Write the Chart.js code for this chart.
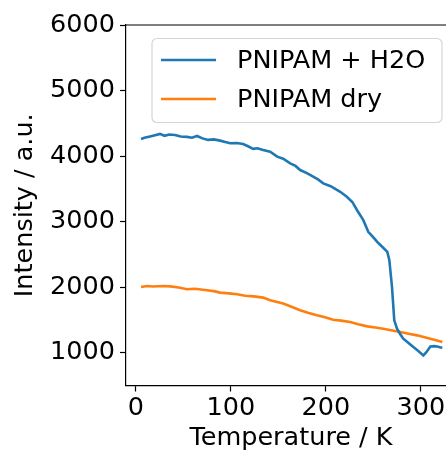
<!DOCTYPE html>
<html>
<head>
<meta charset="utf-8">
<script src="https://cdn.jsdelivr.net/npm/chart.js@4.4.1/dist/chart.umd.min.js"></script>
<style>
  html, body { margin: 0; padding: 0; background: #fff; overflow: hidden; width: 446px; height: 454px; }
  #wrap { width: 456px; height: 454px; }
</style>
</head>
<body>
<div id="wrap"><canvas id="chart" width="456" height="454"></canvas></div>
<script>
// Temperature (K) and intensity (a.u.) for the two PNIPAM samples
const seriesLabels = ['PNIPAM + H2O', 'PNIPAM dry'];
const seriesColors = ['#1f77b4', '#ff7f0e'];

const tempWater = [5.3, 9, 14.8, 19, 25.3, 30, 35, 41.1, 47, 53.8, 59, 64.3, 70, 75.9, 82, 88.6, 94, 99.2, 106,
  112.8, 118, 123.4, 128, 133.9, 141.3, 148.7, 155, 162.4, 168, 172.9, 180, 186.6, 192, 197.2, 205, 215.1,
  222, 227.8, 233, 239.4, 244.6, 250, 254, 259, 264.7, 266.8, 269.6, 272, 274.9, 278, 281.5, 287, 292.1,
  297, 302.6, 305.8, 310, 314, 317.3, 320, 322.6];
const intensityWater = [4262, 4280, 4300, 4315, 4339, 4310, 4330, 4323, 4300, 4293, 4280, 4307, 4270, 4247, 4255,
  4236, 4215, 4195, 4200, 4185, 4150, 4110, 4120, 4093, 4067, 3991, 3960, 3890, 3850, 3787, 3740, 3685,
  3640, 3584, 3540, 3456, 3380, 3300, 3170, 3023, 2844, 2760, 2691, 2620, 2538, 2411, 2003, 1494, 1367,
  1290, 1214, 1150, 1086, 1030, 959, 1009, 1096, 1100, 1096, 1085, 1076];

const tempDry = [5.3, 11.6, 18, 28.5, 36, 45, 53.8, 62, 74.8, 82, 88.6, 98, 106.5, 115, 124, 133.9, 141.3, 148.7,
  155, 162.4, 172.9, 181, 190.6, 199, 207.7, 216, 225.6, 234, 243.6, 252, 260.4, 270, 278.4, 287, 296,
  303, 310, 316, 322.6];
const intensityDry = [2003, 2018, 2010, 2018, 2012, 1995, 1968, 1975, 1953, 1940, 1917, 1905, 1891, 1870, 1860,
  1841, 1800, 1774, 1750, 1710, 1647, 1610, 1570, 1540, 1504, 1490, 1468, 1435, 1402, 1385, 1367, 1340,
  1315, 1290, 1265, 1240, 1214, 1190, 1162];

const xTicks = [0, 100, 200, 300];
const yTicks = [1000, 2000, 3000, 4000, 5000, 6000];

const toPoints = (xs, ys) => xs.map((x, i) => ({ x: x, y: ys[i] }));

const FONT = 'DejaVu Sans';
const SIZE = 25.5;

// Closes the frame with the top and right spines
const frame = {
  id: 'frame',
  afterDatasetsDraw(chart) {
    const { ctx, chartArea: a } = chart;
    ctx.save();
    ctx.strokeStyle = '#000';
    ctx.lineWidth = 1.2;
    ctx.beginPath();
    ctx.moveTo(a.left, a.top);
    ctx.lineTo(a.right, a.top);
    ctx.lineTo(a.right, a.bottom);
    ctx.stroke();
    ctx.restore();
  }
};

// Legend box in the upper right of the plot
const boxLegend = {
  id: 'boxLegend',
  afterDraw(chart) {
    const { ctx, chartArea: a } = chart;
    const x0 = 152, y0 = 38.5, w = 290, h = 84, r = 5;
    ctx.save();
    ctx.beginPath();
    ctx.moveTo(x0 + r, y0);
    ctx.arcTo(x0 + w, y0, x0 + w, y0 + h, r);
    ctx.arcTo(x0 + w, y0 + h, x0, y0 + h, r);
    ctx.arcTo(x0, y0 + h, x0, y0, r);
    ctx.arcTo(x0, y0, x0 + w, y0, r);
    ctx.closePath();
    ctx.fillStyle = 'rgba(255,255,255,0.8)';
    ctx.fill();
    ctx.strokeStyle = '#d6d6d6';
    ctx.lineWidth = 1.2;
    ctx.stroke();
    chart.data.datasets.forEach((ds, i) => {
      const yy = 60 + i * 39;
      ctx.strokeStyle = ds.borderColor;
      ctx.lineWidth = 2.6;
      ctx.beginPath();
      ctx.moveTo(161, yy);
      ctx.lineTo(216, yy);
      ctx.stroke();
      ctx.fillStyle = '#000';
      ctx.font = SIZE + 'px "' + FONT + '"';
      ctx.textBaseline = 'middle';
      ctx.textAlign = 'left';
      ctx.fillText(ds.label, 237, yy + 1);
    });
    ctx.restore();
  }
};

new Chart(document.getElementById('chart'), {
  type: 'line',
  data: {
    datasets: [
      { label: seriesLabels[0], data: toPoints(tempWater, intensityWater), borderColor: seriesColors[0] },
      { label: seriesLabels[1], data: toPoints(tempDry, intensityDry), borderColor: seriesColors[1] }
    ].map(d => Object.assign(d, { borderWidth: 2.6, pointRadius: 0, tension: 0, fill: false }))
  },
  options: {
    responsive: false,
    animation: false,
    devicePixelRatio: 1,
    layout: { padding: { top: 25, right: 0, left: 0, bottom: 0 } },
    plugins: { legend: { display: false }, tooltip: { enabled: false } },
    scales: {
      x: {
        type: 'linear',
        min: -10.5,
        max: 337,
        afterBuildTicks: s => { s.ticks = xTicks.map(v => ({ value: v })); },
        afterFit: s => { s.height = 68.5; },
        ticks: { color: '#000', font: { family: FONT, size: SIZE }, padding: 2, maxRotation: 0,
                 callback: v => String(v) },
        grid: { display: true, drawOnChartArea: false, drawTicks: true, tickLength: 6, tickColor: '#000', tickWidth: 1.2 },
        border: { display: true, color: '#000', width: 1.2 },
        title: { display: true, text: 'Temperature / K', color: '#000', font: { family: FONT, size: SIZE }, padding: { top: 0, bottom: 0 } }
      },
      y: {
        type: 'linear',
        min: 500,
        max: 6000,
        afterBuildTicks: s => { s.ticks = yTicks.map(v => ({ value: v })); },
        afterFit: s => { s.width = 126; },
        ticks: { color: '#000', font: { family: FONT, size: SIZE }, padding: 5,
                 callback: v => String(v) },
        grid: { display: true, drawOnChartArea: false, drawTicks: true, tickLength: 6, tickColor: '#000', tickWidth: 1.2 },
        border: { display: true, color: '#000', width: 1.2 },
        title: { display: true, text: 'Intensity / a.u.', color: '#000', font: { family: FONT, size: SIZE }, padding: { top: 10.5, bottom: 0 } }
      }
    }
  },
  plugins: [frame, boxLegend]
});
</script>
</body>
</html>
